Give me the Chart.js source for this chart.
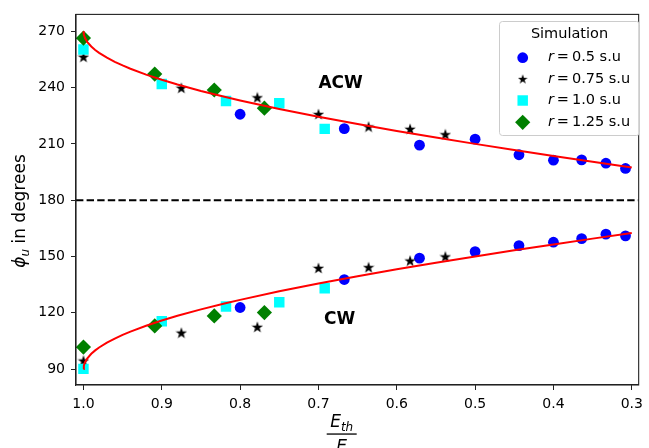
<!DOCTYPE html>
<html>
<head>
<meta charset="utf-8">
<script src="https://cdn.jsdelivr.net/npm/chart.js@4.4.1/dist/chart.umd.min.js"></script>
<style>
  html, body { margin: 0; padding: 0; background: #fff; }
</style>
</head>
<body>
<canvas id="phiChart" width="649" height="448"></canvas>
<script>
// x = E_th / E, y = phi_u (degrees); upper branch ACW, lower branch CW
const xTicks = [1.0, 0.9, 0.8, 0.7, 0.6, 0.5, 0.4, 0.3];
const yTicks = [90, 120, 150, 180, 210, 240, 270];

// r = 0.5 s.u
const r05X   = [0.8, 0.667, 0.571, 0.5, 0.444, 0.4, 0.364, 0.333, 0.308];
const r05ACW = [225.8, 218.1, 209.3, 212.5, 204.2, 201.3, 201.5, 199.7, 196.9];
const r05CW  = [122.8, 137.7, 149.1, 152.6, 155.8, 157.6, 159.5, 161.9, 161.0];

// r = 0.75 s.u
const r075X   = [1.0, 0.875, 0.778, 0.7, 0.636, 0.583, 0.538];
const r075ACW = [256.4, 239.9, 234.8, 225.9, 219.2, 218.0, 215.1];
const r075CW  = [94.5, 109.4, 112.5, 143.9, 144.3, 147.8, 150.0];

// r = 1.0 s.u
const r10X   = [1.0, 0.9, 0.818, 0.75, 0.692];
const r10ACW = [260.3, 241.9, 232.8, 231.6, 218.0];
const r10CW  = [90.1, 115.5, 123.3, 125.6, 133.1];

// r = 1.25 s.u
const r125X   = [1.0, 0.909, 0.833, 0.769];
const r125ACW = [266.4, 247.2, 238.7, 229.0];
const r125CW  = [101.7, 113.0, 118.3, 120.1];

// fitted curves
const fitX   = [1.0, 0.9995, 0.998, 0.995, 0.99, 0.985, 0.98, 0.97, 0.96, 0.95, 0.94, 0.92, 0.9, 0.88, 0.85, 0.82, 0.8, 0.75, 0.7, 0.65, 0.6, 0.55, 0.5, 0.45, 0.4, 0.35, 0.3];
const fitACW = [270, 268.19, 266.38, 264.27, 261.89, 260.06, 258.52, 255.93, 253.74, 251.81, 250.05, 246.93, 244.16, 241.64, 238.21, 235.08, 233.13, 228.59, 224.43, 220.54, 216.87, 213.37, 210, 206.74, 203.58, 200.49, 197.46];
const fitCW  = [90, 91.81, 93.62, 95.73, 98.11, 99.94, 101.48, 104.07, 106.26, 108.19, 109.95, 113.07, 115.84, 118.36, 121.79, 124.92, 126.87, 131.41, 135.57, 139.46, 143.13, 146.63, 150, 153.26, 156.42, 159.51, 162.54];

const refLine = 180;
const xLimits = [0.2912, 1.0095];
const yLimits = [81.5, 279];

function pairs(xs, ys) {
  return xs.map((v, i) => ({ x: v, y: ys[i] }));
}

// filled five-point star marker
function starMarker(size, color) {
  const c = document.createElement('canvas');
  c.width = c.height = size;
  const g = c.getContext('2d');
  g.fillStyle = color;
  g.beginPath();
  for (let i = 0; i < 10; i++) {
    const rad = i % 2 ? size * 0.2 : size * 0.5;
    const a = -Math.PI / 2 + i * Math.PI / 5;
    g.lineTo(size / 2 + rad * Math.cos(a), size / 2 + 0.6 + rad * Math.sin(a));
  }
  g.closePath();
  g.fill();
  return c;
}

const star = starMarker(12, '#000');
const legendStar = starMarker(10, '#000');
const FONT = '"DejaVu Sans", sans-serif';

const datasets = [
  { label: 'fit ACW', data: pairs(fitX, fitACW), showLine: true, borderColor: '#ff0000', borderWidth: 2, pointRadius: 0, fill: false },
  { label: 'fit CW', data: pairs(fitX, fitCW), showLine: true, borderColor: '#ff0000', borderWidth: 2, pointRadius: 0, fill: false },
  { label: '180', data: [{ x: xLimits[1], y: refLine }, { x: xLimits[0], y: refLine }], showLine: true, borderColor: '#000', borderWidth: 2, borderDash: [7.4, 3.2], pointRadius: 0 },
  { label: 'r = 1.25 s.u', legend: 3, data: pairs(r125X, r125ACW).concat(pairs(r125X, r125CW)), backgroundColor: '#008000', pointStyle: 'rectRot', pointRadius: 7.6, borderWidth: 0 },
  { label: 'r = 1.0 s.u', legend: 2, data: pairs(r10X, r10ACW).concat(pairs(r10X, r10CW)), backgroundColor: '#00ffff', pointStyle: 'rect', pointRadius: 7.4, borderWidth: 0 },
  { label: 'r = 0.75 s.u', legend: 1, data: pairs(r075X, r075ACW).concat(pairs(r075X, r075CW)), backgroundColor: '#000', pointStyle: star, pointRadius: 6, borderWidth: 0 },
  { label: 'r = 0.5 s.u', legend: 0, data: pairs(r05X, r05ACW).concat(pairs(r05X, r05CW)), backgroundColor: '#0000ff', pointStyle: 'circle', pointRadius: 5.4, borderWidth: 0 }
];

const annotations = [
  { text: 'ACW', x: 0.70, y: 239.6 },
  { text: 'CW', x: 0.693, y: 113.9 }
];

const decorations = {
  id: 'decorations',
  afterDraw(chart) {
    const { ctx, chartArea: a, scales } = chart;
    const sx = scales.x, sy = scales.y;
    ctx.save();

    // axes frame
    ctx.strokeStyle = '#222';
    ctx.lineWidth = 1.1;
    ctx.strokeRect(a.left, a.top, a.right - a.left, a.bottom - a.top);

    // branch labels
    ctx.fillStyle = '#000';
    ctx.font = 'bold 17px ' + FONT;
    ctx.textAlign = 'left';
    ctx.textBaseline = 'alphabetic';
    annotations.forEach(t => ctx.fillText(t.text, sx.getPixelForValue(t.x), sy.getPixelForValue(t.y)));

    // y title: phi_u in degrees
    ctx.save();
    ctx.translate(25, 211);
    ctx.rotate(-Math.PI / 2);
    const big = '17px ' + FONT, bigIt = 'italic 17px ' + FONT, small = 'italic 12px ' + FONT;
    ctx.font = bigIt; const wPhi = ctx.measureText('\u03d5').width;
    ctx.font = small; const wU = ctx.measureText('u').width;
    ctx.font = big; const wRest = ctx.measureText(' in degrees').width;
    let px = -(wPhi + wU + wRest) / 2;
    ctx.font = bigIt; ctx.fillText('\u03d5', px, 0); px += wPhi;
    ctx.font = small; ctx.fillText('u', px, 3.5); px += wU;
    ctx.font = big; ctx.fillText(' in degrees', px, 0);
    ctx.restore();

    // x title: E_th / E
    const cx = 341.7;
    ctx.font = bigIt; const wE = ctx.measureText('E').width;
    ctx.font = 'italic 12px ' + FONT; const wTh = ctx.measureText('th').width;
    let nx = cx - (wE + wTh) / 2;
    ctx.font = bigIt; ctx.fillText('E', nx, 426.7);
    ctx.font = 'italic 12px ' + FONT; ctx.fillText('th', nx + wE, 430.5);
    ctx.fillRect(cx - 15, 433.4, 30, 1.3);
    ctx.font = bigIt; ctx.textAlign = 'center'; ctx.fillText('E', cx, 452);

    // legend box
    const bx = 499, by = 21, bw = 140, bh = 114;
    ctx.beginPath();
    ctx.roundRect(bx + 0.5, by + 0.5, bw, bh, 3);
    ctx.fillStyle = 'rgba(255,255,255,0.8)';
    ctx.fill();
    ctx.strokeStyle = '#cccccc';
    ctx.lineWidth = 1;
    ctx.stroke();

    ctx.fillStyle = '#000';
    ctx.font = '14.5px ' + FONT;
    ctx.textAlign = 'center';
    ctx.textBaseline = 'middle';
    ctx.fillText('Simulation', 569.5, 34.5);

    const rows = [57.7, 78.8, 100.5, 122.3];
    chart.data.datasets.filter(d => d.legend !== undefined).forEach(d => {
      const ry = rows[d.legend];
      const style = d.pointStyle === star ? legendStar : d.pointStyle;
      ctx.fillStyle = d.backgroundColor;
      Chart.helpers.drawPoint(ctx, { pointStyle: style, radius: d.pointRadius, rotation: 0, borderWidth: 0 }, 522.7, ry);
      ctx.fillStyle = '#000';
      ctx.textAlign = 'left';
      ctx.font = 'italic 14.5px ' + FONT;
      const name = d.label.split(' = ');
      ctx.fillText(name[0], 548, ry);
      const wr = ctx.measureText(name[0]).width;
      ctx.font = '14.5px ' + FONT;
      ctx.fillText('\u2009=\u2009' + name[1], 548 + wr, ry);
    });

    ctx.restore();
  }
};

new Chart(document.getElementById('phiChart').getContext('2d'), {
  type: 'scatter',
  data: { datasets: datasets },
  options: {
    responsive: false,
    animation: false,
    devicePixelRatio: 1,
    layout: { padding: { top: 14, right: 4, left: 0, bottom: 0 } },
    plugins: { legend: { display: false }, tooltip: { enabled: false } },
    elements: { line: { tension: 0 } },
    scales: {
      x: {
        type: 'linear',
        reverse: true,
        min: xLimits[0],
        max: xLimits[1],
        afterBuildTicks: s => { s.ticks = xTicks.map(v => ({ value: v })); },
        afterFit: s => { s.height = 63; },
        ticks: { color: '#000', font: { family: FONT, size: 14 }, padding: 6, maxRotation: 0, callback: v => v.toFixed(1) },
        grid: { drawOnChartArea: false, drawTicks: true, tickLength: 5, color: '#222', lineWidth: 1 },
        border: { display: true, color: '#222', width: 1.1 }
      },
      y: {
        type: 'linear',
        min: yLimits[0],
        max: yLimits[1],
        afterBuildTicks: s => { s.ticks = yTicks.map(v => ({ value: v })); },
        afterFit: s => { s.width = 76; },
        ticks: { color: '#000', font: { family: FONT, size: 14 }, padding: 6, callback: v => String(v) },
        grid: { drawOnChartArea: false, drawTicks: true, tickLength: 5, color: '#222', lineWidth: 1 },
        border: { display: true, color: '#222', width: 1.1 }
      }
    }
  },
  plugins: [decorations]
});
</script>
</body>
</html>
